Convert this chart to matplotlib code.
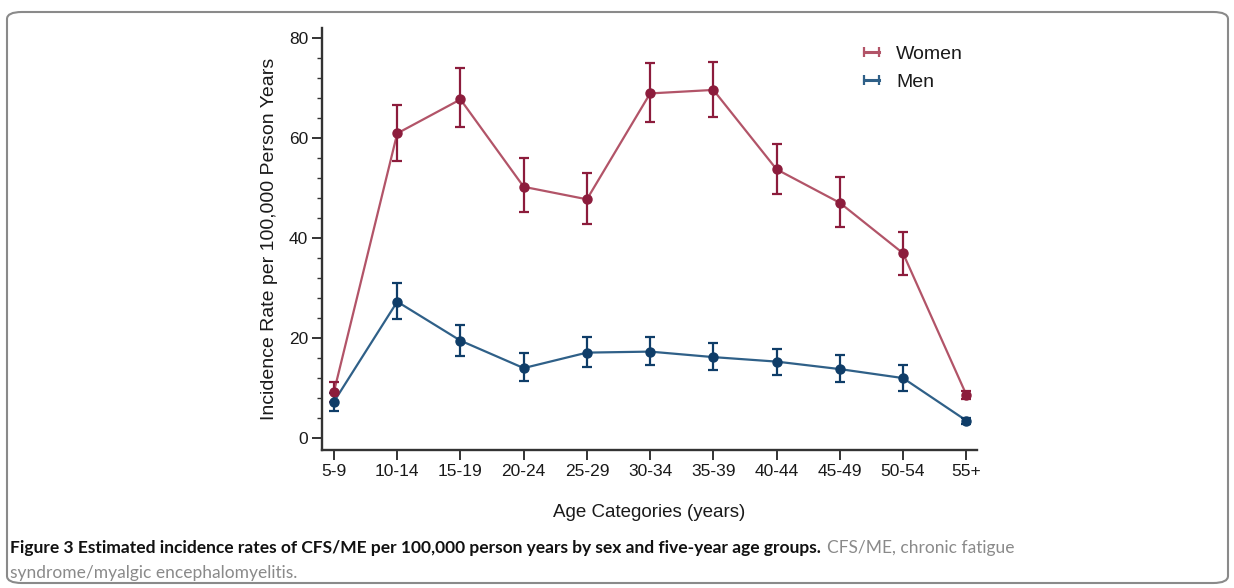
import matplotlib
matplotlib.use("Agg")
import matplotlib.pyplot as plt
from matplotlib.ticker import MultipleLocator
from matplotlib.lines import Line2D
from matplotlib.patches import FancyBboxPatch

categories = ["5-9", "10-14", "15-19", "20-24", "25-29", "30-34",
              "35-39", "40-44", "45-49", "50-54", "55+"]
women = [9.3, 61.0, 67.8, 50.3, 47.8, 69.0, 69.7, 53.8, 47.1, 37.0, 8.7]
women_lo = [7.3, 55.5, 62.2, 45.3, 42.8, 63.3, 64.3, 48.9, 42.3, 32.7, 7.9]
women_hi = [11.3, 66.7, 74.0, 56.0, 53.0, 75.0, 75.3, 58.9, 52.2, 41.3, 9.5]
men = [7.3, 27.3, 19.5, 14.0, 17.1, 17.3, 16.2, 15.3, 13.8, 12.0, 3.5]
men_lo = [5.5, 23.9, 16.5, 11.5, 14.3, 14.7, 13.7, 12.7, 11.2, 9.5, 2.9]
men_hi = [9.1, 31.0, 22.7, 17.0, 20.2, 20.3, 19.0, 17.9, 16.7, 14.7, 4.1]
yticks = [0, 20, 40, 60, 80]

W, H = 1234, 588
fig = plt.figure(figsize=(W / 100, H / 100), dpi=100)
plt.rcParams['font.family'] = ['Liberation Sans', 'DejaVu Sans']

ax = fig.add_axes([322 / W, 1 - 450 / H, (977 - 322) / W, (450 - 28) / H])
x = list(range(len(categories)))

w_line, w_mark = "#b25468", "#8c1c3c"
m_line, m_mark = "#2f6088", "#0f3d68"

def draw(vals, lo, hi, lc, mc):
    yerr = [[v - l for v, l in zip(vals, lo)], [h - v for v, h in zip(vals, hi)]]
    ax.errorbar(x, vals, yerr=yerr, fmt='none', ecolor=mc, elinewidth=1.6,
                capsize=3.5, capthick=1.6, zorder=3)
    ax.plot(x, vals, color=lc, lw=1.6, zorder=2)
    ax.plot(x, vals, 'o', color=mc, ms=6.5, zorder=4)

draw(women, women_lo, women_hi, w_line, w_mark)
draw(men, men_lo, men_hi, m_line, m_mark)

ax.set_xlim(-0.19, 10.17)
ax.set_ylim(-2.4, 82.1)
ax.set_xticks(x)
ax.set_xticklabels(categories)
ax.set_yticks(yticks)
ax.yaxis.set_minor_locator(MultipleLocator(4))
for s in ("top", "right"):
    ax.spines[s].set_visible(False)
for s in ("left", "bottom"):
    ax.spines[s].set_linewidth(1.7)
    ax.spines[s].set_color("#333333")
ax.tick_params(axis='both', which='major', length=7, width=1.4, color="#333333",
               labelsize=12.5, labelcolor="#1a1a1a", pad=3)
ax.tick_params(axis='y', which='minor', length=3.5, width=1.0, color="#333333")
ax.set_ylabel("Incidence Rate per 100,000 Person Years", fontsize=14,
              color="#1a1a1a", labelpad=8)
ax.set_xlabel("Age Categories (years)", fontsize=13.5, color="#1a1a1a", labelpad=18)

handles = [Line2D([0, 1], [0, 0], color=w_line, lw=2.2, marker='|', ms=7,
                  mew=1.6, mec=w_line),
           Line2D([0, 1], [0, 0], color=m_line, lw=2.2, marker='|', ms=7,
                  mew=1.6, mec=m_line)]
ax.legend(handles, ["Women", "Men"], loc='upper left',
          bbox_to_anchor=((858 - 322) / 655, (450 - 45) / 422),
          frameon=False, numpoints=2, handlelength=1.4, handletextpad=0.55,
          borderpad=0, borderaxespad=0, labelspacing=0.55,
          prop={'size': 14}, labelcolor="#1a1a1a")

# caption
renderer = fig.canvas.get_renderer()
t1 = fig.text(10 / W, 1 - 548 / H, "Figure 3 Estimated incidence rates of CFS/ME per "
              "100,000 person years by sex and five-year age groups.",
              fontsize=12.5, fontweight='bold', family='Lato', color="#111111",
              va='center', ha='left')
bb = t1.get_window_extent(renderer)
fig.text((bb.x1 + 6) / W, 1 - 548 / H, "CFS/ME, chronic fatigue", fontsize=12.5,
         family='Lato', color="#8a8a8a", va='center', ha='left')
fig.text(10 / W, 1 - 573 / H, "syndrome/myalgic encephalomyelitis.", fontsize=12.5,
         family='Lato', color="#8a8a8a", va='center', ha='left')

border = FancyBboxPatch((7 / W, 5 / H), (1228 - 7) / W, (576 - 5) / H,
                        boxstyle="round,pad=0,rounding_size=0.012",
                        transform=fig.transFigure, fill=False,
                        edgecolor="#8a8a8a", lw=1.5)
fig.patches.append(border)

fig.savefig("out.png", dpi=100)
